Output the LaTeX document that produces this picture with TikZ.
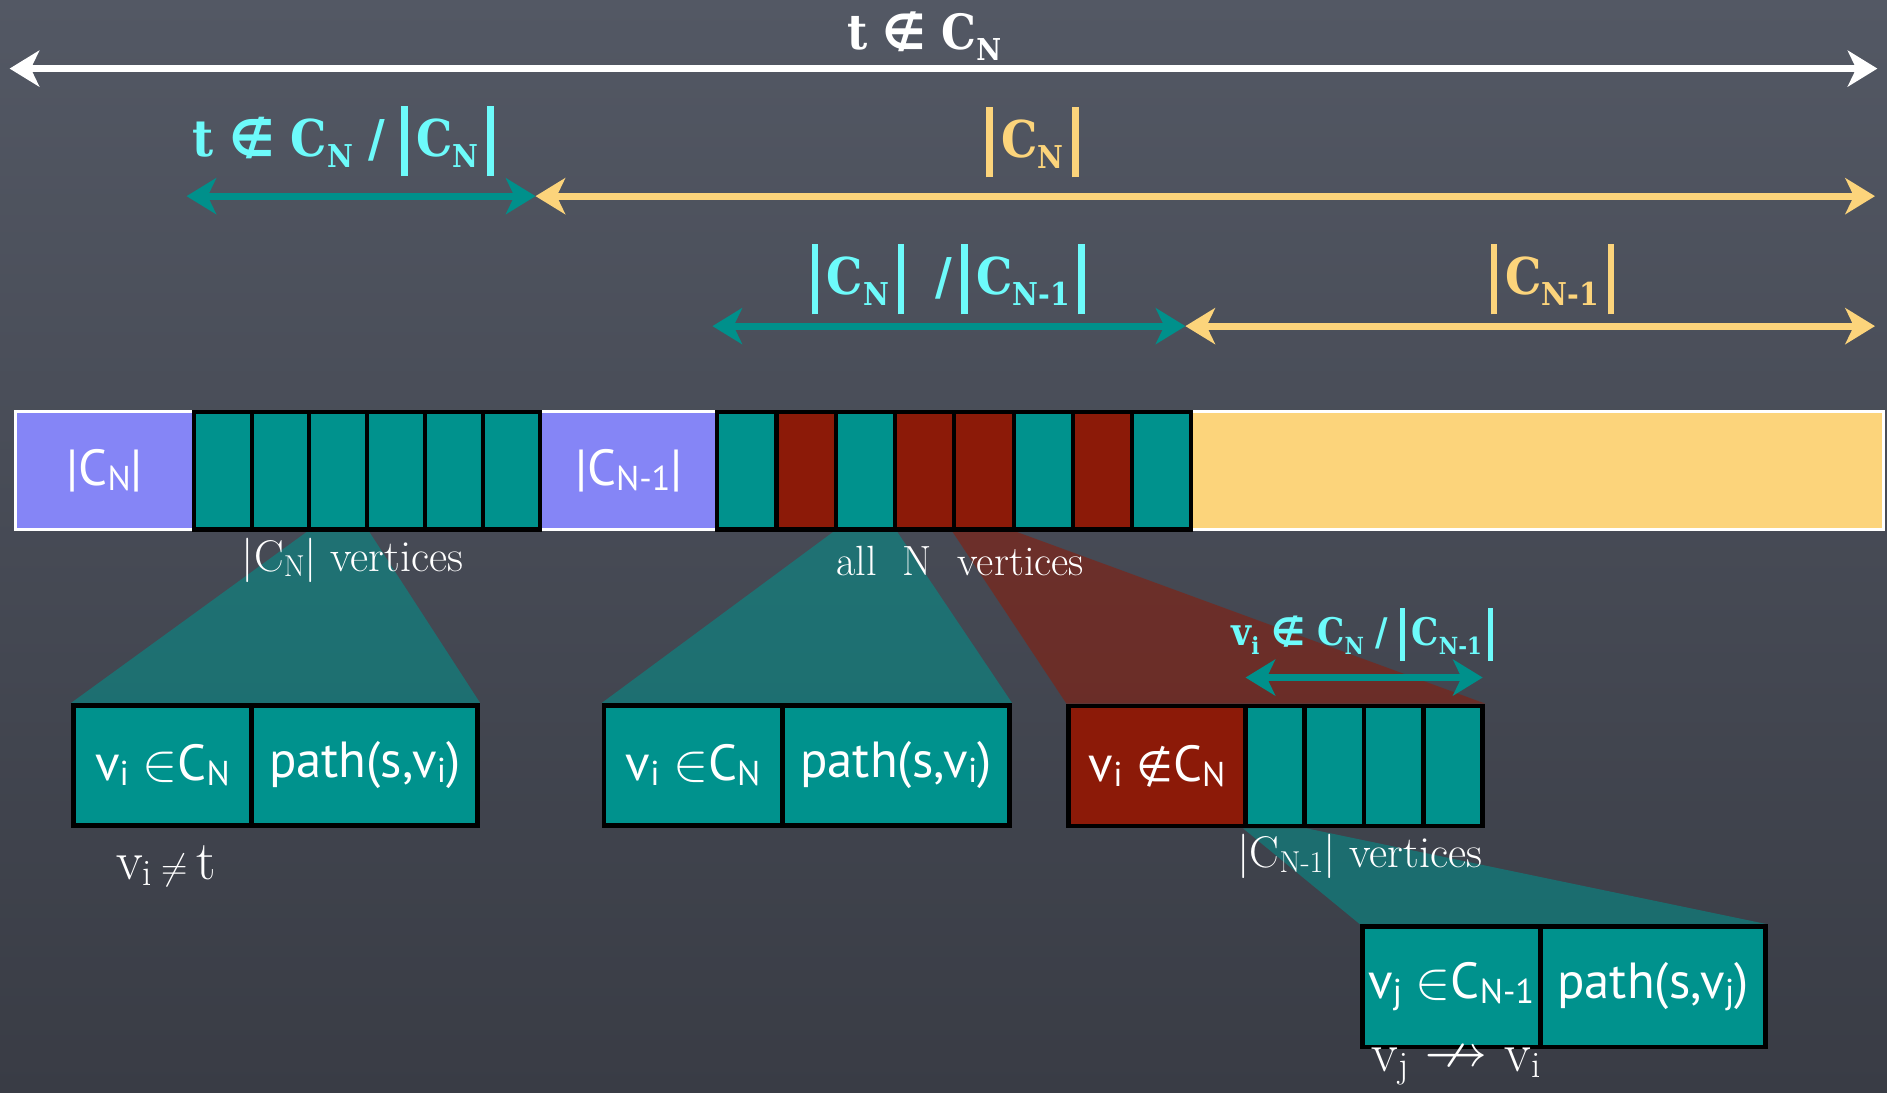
\documentclass[tikz,border=0pt]{standalone}
\usepackage{fontspec}
\usepackage{amssymb}
\usepackage{graphicx}
\usepackage{tikz}
\usetikzlibrary{arrows.meta,backgrounds}
\newfontfamily\slab{DejaVu Serif Condensed}
\newfontfamily\chalk{PT Sans}
\newfontfamily\symf{DejaVu Sans}
\definecolor{boardtop}{HTML}{535864}
\definecolor{boardbot}{HTML}{393C45}
\definecolor{cellteal}{HTML}{00928D}
\definecolor{cellred}{HTML}{8C1A08}
\definecolor{cellpurple}{HTML}{8585F6}
\definecolor{cellyellow}{HTML}{FCD47B}
\definecolor{labcyan}{HTML}{6DFBFB}
\definecolor{arrteal}{HTML}{00908B}
\newcommand{\vb}{\rule[-0.39em]{0.13em}{1.39em}}
\newcommand{\lo}[1]{\raisebox{-0.22em}{\scalebox{0.62}{#1}}}
\newcommand{\sbt}[1]{\raisebox{-0.1em}{\scalebox{0.68}{#1}}}
\pgfdeclarelayer{fan}
\pgfsetlayers{background,fan,main}

\begin{document}
\begin{tikzpicture}[x=0.02cm, y=-0.02cm, >={Stealth[length=14pt,width=17pt,inset=4pt]},
  dim/.style={<->, line width=3.4pt},
  lab/.style={font=\slab\bfseries\fontsize{24}{28}\selectfont, inner sep=0pt},
  note/.style={font=\fontsize{21}{24}\selectfont, text=white, inner sep=0pt},
  cell/.style={draw=black, line width=1.9pt, fill=cellteal, minimum height=1.96cm, inner sep=0pt},
  head/.style={draw=white, line width=1.7pt, fill=cellpurple, minimum height=1.96cm, minimum width=2.96cm, text=white, font=\chalk\fontsize{24}{28}\selectfont},
  rec/.style={draw=black, line width=2.2pt, fill=cellteal, minimum height=2cm, inner sep=0pt, text=white, font=\chalk\fontsize{24}{28}\selectfont}]
\useasboundingbox (0,0) rectangle (1568,908);
\begin{pgfonlayer}{background}
\shade[top color=boardtop, bottom color=boardbot] (0,0) rectangle (1568,908);
\end{pgfonlayer}

\node[head] (h1) at (87,391) {|C\sbt{N}|};
\node[head] (h2) at (522.5,391) {|C\sbt{N-1}|};
\node[head, fill=cellyellow, minimum width=11.5cm] (rest) at (1277.5,391) {};
\foreach \i in {1,...,6}
  \node[cell, minimum width=0.96cm] (a\i) at ({185+48*(\i-1)},391) {};
\foreach \i/\c in {1/cellteal,2/cellred,3/cellteal,4/cellred,5/cellred,6/cellteal,7/cellred,8/cellteal}
  \node[cell, fill=\c, minimum width=0.985cm] (b\i) at ({620.6+49.25*(\i-1)},391) {};

\node[note] (na) at (293,466) {|C\sbt{N}| vertices};
\node[note, font=\fontsize{20}{24}\selectfont] (nb) at (798,466) {all\ \ N\ \ vertices};

\node[rec, minimum width=2.96cm] (k1) at (135,636) {v\sbt{i} $\in$C\sbt{N}};
\node[rec, minimum width=3.76cm] (p1) at (303,636) {path(s,v\sbt{i})};
\node[rec, minimum width=2.96cm] (k2) at (576,636) {v\sbt{i} $\in$C\sbt{N}};
\node[rec, minimum width=3.78cm] (p2) at (744.5,636) {path(s,v\sbt{i})};
\node[rec, fill=cellred, minimum width=2.94cm] (k3) at (961.5,636.5) {v\sbt{i} {\symf\fontsize{20}{24}\selectfont ∉}C\sbt{N}};
\foreach \i in {1,...,4}
  \node[rec, minimum width=0.985cm] (c\i) at ({1059.6+49.25*(\i-1)},636.5) {};
\node[rec, minimum width=2.96cm] (k4) at (1206,820) {v\sbt{j} $\in$C\sbt{N-1}};
\node[rec, minimum width=3.74cm] (p4) at (1373.5,820) {path(s,v\sbt{j})};

\node[note, font=\fontsize{26}{28}\selectfont] (ne) at (138,720) {v\sbt{i}\,{\fontsize{16}{16}\selectfont$\neq$}\,t};
\node[note] (nc) at (1130,712) {|C\sbt{N-1}| vertices};
\node[note, font=\fontsize{26}{28}\selectfont] (nd) at (1210,886) {v\sbt{j}\ {\fontsize{30}{30}\selectfont$\nrightarrow$}\ v\sbt{i}};

\node[lab, text=white, font=\slab\bfseries\fontsize{23}{28}\selectfont] (t0) at (768,30) {t {\symf ∉} C\lo{N}};
\node[lab, text=labcyan] (t1) at (285,117) {t {\symf ∉} C\lo{N} / \vb\,C\lo{N}\,\vb};
\node[lab, text=cellyellow] (t2) at (858,118) {\vb\,C\lo{N}\,\vb};
\node[lab, text=labcyan] (t3) at (788,232) {\vb\,C\lo{N}\,\vb\ \ /\,\vb\,C\lo{N-1}\,\vb};
\node[lab, text=cellyellow] (t4) at (1290,232) {\vb\,C\lo{N-1}\,\vb};
\node[lab, text=labcyan, font=\slab\bfseries\fontsize{18}{22}\selectfont] (t5) at (1132,527) {v\lo{i} {\symf ∉} C\lo{N} / \vb\,C\lo{N-1}\,\vb};

\coordinate (w0) at (8,57); \coordinate (w1) at (1560,57);
\coordinate (s0) at (155,163); \coordinate (s1) at (445,163); \coordinate (s2) at (1558,163);
\coordinate (r0) at (592,271); \coordinate (r1) at (985,271); \coordinate (r2) at (1558,271);
\coordinate (q0) at (1035,563); \coordinate (q1) at (1232,563);
\draw[dim, white] (w0) -- (w1);
\draw[dim, arrteal] (s0) -- (s1);
\draw[dim, cellyellow] (s1) -- (s2);
\draw[dim, arrteal] (r0) -- (r1);
\draw[dim, cellyellow] (r1) -- (r2);
\draw[dim, arrteal] (q0) -- (q1);

\begin{pgfonlayer}{fan}
\fill[cellteal, opacity=.55] (a3.south west) -- (a3.south east) -- (p1.north east) -- (k1.north west) -- cycle;
\fill[cellteal, opacity=.55] (b3.south west) -- (b3.south east) -- (p2.north east) -- (k2.north west) -- cycle;
\fill[cellred, opacity=.55] (b5.south west) -- (b5.south east) -- (c4.north east) -- (k3.north west) -- cycle;
\fill[cellteal, opacity=.55] (c1.south west) -- (c1.south east) -- (p4.north east) -- (k4.north west) -- cycle;
\end{pgfonlayer}
\end{tikzpicture}
\end{document}
